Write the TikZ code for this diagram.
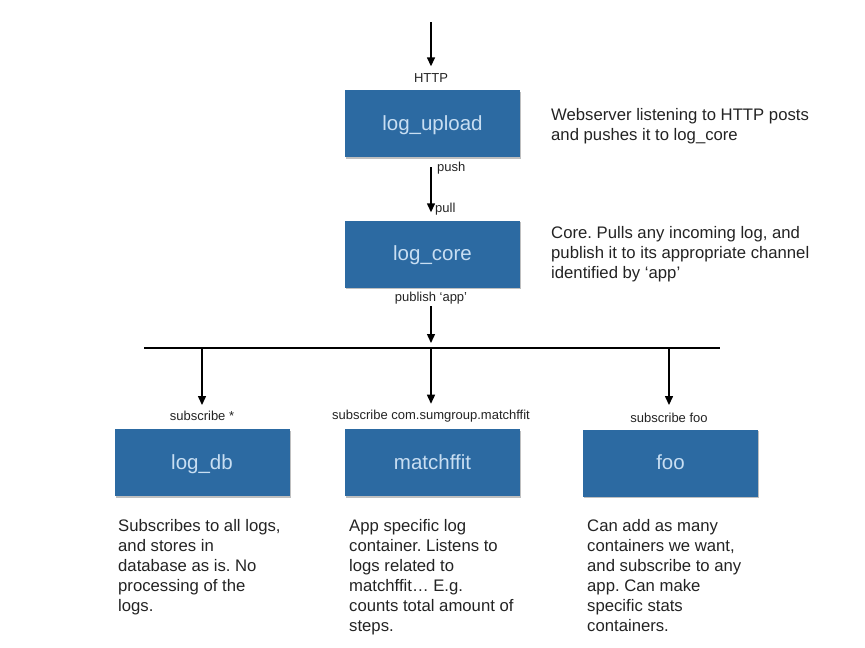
\documentclass[tikz,border=0pt]{standalone}
\usepackage{fontspec}
\setmainfont{Liberation Sans}
\usetikzlibrary{arrows.meta,shadows}
\definecolor{boxblue}{RGB}{44,106,162}
\definecolor{boxtext}{RGB}{200,222,242}
\definecolor{txt}{RGB}{35,35,35}
\frenchspacing
\tikzset{
  svc/.style={draw=none, fill=boxblue, minimum width=175pt, minimum height=67pt,
    inner sep=0pt, text=boxtext, font=\fontsize{20.5}{24}\selectfont,
    text height=15pt, text depth=2pt,
    general shadow={fill=black!25, shadow xshift=1pt, shadow yshift=-1.5pt}},
  lbl/.style={inner sep=0pt, text=txt, font=\fontsize{13}{15}\selectfont},
  desc/.style={inner sep=0pt, anchor=north west, align=left, text=txt,
    font=\fontsize{16.7}{20}\selectfont},
  arr/.style={line width=1.4pt, -{Triangle[length=9pt,width=8pt]}},
  bus/.style={line width=1.4pt}
}
\begin{document}
\begin{tikzpicture}[x=1pt,y=-1pt]
\useasboundingbox (0,0) rectangle (865,648);
% boxes
\node[svc] (up) at (432.5,123.5) {log\_upload};
\node[svc] (core) at (432.5,254) {log\_core};
\node[svc] (db) at (202,462.5) {log\_db};
\node[svc] (mf) at (432.5,462.5) {matchffit};
\node[svc] (foo) at (670.5,463) {foo};
% small labels
\node[lbl] (http) at (431,78) {HTTP};
\node[lbl, anchor=west] (push) at (437,168) {push};
\node[lbl, anchor=west] (pull) at (435,209) {pull};
\node[lbl] (pub) at (431,298) {publish ‘app’};
\node[lbl] (sdb) at (202,416) {subscribe *};
\node[lbl] (smf) at (431,416) {subscribe com.sumgroup.matchffit};
\node[lbl] (sfoo) at (669,418) {subscribe foo};
% descriptions
\node[desc] (dup) at (551,108) {Webserver listening to HTTP posts\\and pushes it to log\_core};
\node[desc] (dcore) at (551,226) {Core. Pulls any incoming log, and\\publish it to its appropriate channel\\identified by ‘app’};
\node[desc] (ddb) at (118,519) {Subscribes to all logs,\\and stores in\\database as is. No\\processing of the\\logs.};
\node[desc] (dmf) at (349,519) {App specific log\\container. Listens to\\logs related to\\matchffit… E.g.\\counts total amount of\\steps.};
\node[desc] (dfoo) at (587,519) {Can add as many\\containers we want,\\and subscribe to any\\app. Can make\\specific stats\\containers.};
% connectors
\coordinate (in) at (431,22);
\coordinate (busL) at (144,348);
\coordinate (busR) at (720,348);
\coordinate (busM) at (431,348);
\draw[arr, shorten >=7pt] (in) -- (http.north -| in);
\draw[arr, shorten <=10pt, shorten >=8pt] (up.south -| in) -- (core.north -| in);
\draw[arr, shorten >=5pt] (pub.south -| in) ++(0,2) -- (busM);
\draw[bus] (busL) -- (busR);
\draw[arr, shorten >=6pt] (busL -| sdb) -- (sdb.north);
\draw[arr, shorten >=6pt] (busM) -- (smf.north -| busM);
\draw[arr, shorten >=8pt] (busR -| sfoo) -- (sfoo.north);
\end{tikzpicture}
\end{document}
